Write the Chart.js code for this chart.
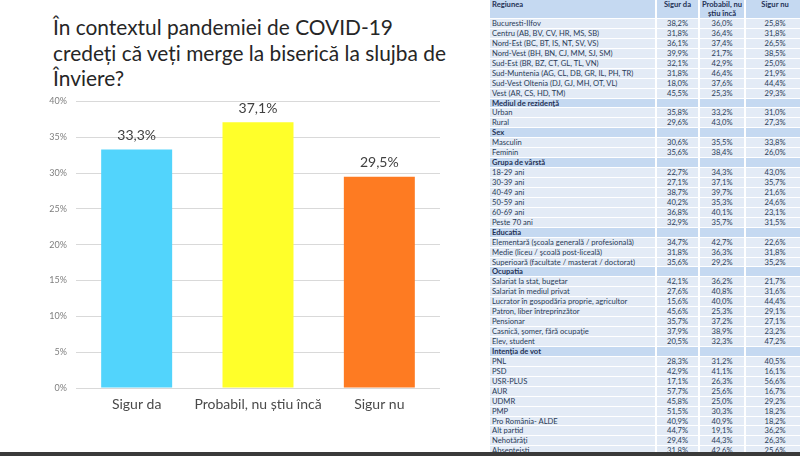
<!DOCTYPE html>
<html lang="ro">
<head>
    <meta charset="UTF-8">
    <title>Slujba de Înviere</title>
    <script src="https://cdn.jsdelivr.net/npm/chart.js"></script>
    <style>
        body {
            margin: 0;
            width: 800px;
            height: 456px;
            background: white;
            position: relative;
            overflow: hidden;
            font-family: Lato, "Open Sans", sans-serif;
        }
        #title {
            position: absolute;
            left: 53px;
            top: 14px;
            font-size: 20.9px;
            line-height: 25.5px;
            color: #262626;
        }
        #chartBox {
            position: absolute;
            left: 0;
            top: 87px;
            width: 470px;
            height: 343px;
        }
        #table {
            position: absolute;
            left: 490px;
            top: 0;
            display: grid;
            grid-template-columns: 165px 41px 44px 58px;
            grid-template-rows: 18px;
            grid-auto-rows: 8.95px;
            column-gap: 2px;
            row-gap: 1px;
            font-size: 7.6px;
            color: #2a3b57;
        }
        #table div {
            background: #e3ebf6;
            line-height: 9px;
            white-space: nowrap;
            overflow: hidden;
        }
        #table .head {
            background: #c5d9f1;
            font-weight: bold;
            color: #1f3155;
            line-height: 9px;
        }
        #table .lbl { padding-left: 2px; }
        #table .num { text-align: center; }
        #bottomBar {
            position: absolute;
            left: 0;
            top: 452px;
            width: 800px;
            height: 4px;
            background: #3a3a3a;
        }
    </style>
</head>
<body>
    <div id="title">În contextul pandemiei de COVID-19<br>credeți că veți merge la biserică la slujba de<br>Înviere?</div>
    <div id="chartBox"><canvas id="bisericaChart"></canvas></div>
    <div id="table"></div>
    <div id="bottomBar"></div>

    <script>
        // chart data
        const categories = ['Sigur da', 'Probabil, nu știu încă', 'Sigur nu'];
        const values = [33.3, 37.1, 29.5];
        const barColors = ['#52d4fc', '#ffff2a', '#fe7b22'];
        const yTicks = [0, 5, 10, 15, 20, 25, 30, 35, 40];

        // table data (Sigur da, Probabil, Sigur nu)
        const tableHeader = ['Regiunea', 'Sigur da', 'Probabil, nu<br>știu încă', 'Sigur nu'];
        const regiuni = [
            ['Bucuresti-Ilfov', '38,2%', '36,0%', '25,8%'],
            ['Centru (AB, BV, CV, HR, MS, SB)', '31,8%', '36,4%', '31,8%'],
            ['Nord-Est (BC, BT, IS, NT, SV, VS)', '36,1%', '37,4%', '26,5%'],
            ['Nord-Vest (BH, BN, CJ, MM, SJ, SM)', '39,9%', '21,7%', '38,5%'],
            ['Sud-Est (BR, BZ, CT, GL, TL, VN)', '32,1%', '42,9%', '25,0%'],
            ['Sud-Muntenia (AG, CL, DB, GR, IL, PH, TR)', '31,8%', '46,4%', '21,9%'],
            ['Sud-Vest Oltenia (DJ, GJ, MH, OT, VL)', '18,0%', '37,6%', '44,4%'],
            ['Vest (AR, CS, HD, TM)', '45,5%', '25,3%', '29,3%']
        ];
        const mediu = [
            ['Urban', '35,8%', '33,2%', '31,0%'],
            ['Rural', '29,6%', '43,0%', '27,3%']
        ];
        const sex = [
            ['Masculin', '30,6%', '35,5%', '33,8%'],
            ['Feminin', '35,6%', '38,4%', '26,0%']
        ];
        const varsta = [
            ['18-29 ani', '22,7%', '34,3%', '43,0%'],
            ['30-39 ani', '27,1%', '37,1%', '35,7%'],
            ['40-49 ani', '38,7%', '39,7%', '21,6%'],
            ['50-59 ani', '40,2%', '35,3%', '24,6%'],
            ['60-69 ani', '36,8%', '40,1%', '23,1%'],
            ['Peste 70 ani', '32,9%', '35,7%', '31,5%']
        ];
        const educatia = [
            ['Elementară (şcoala generală / profesională)', '34,7%', '42,7%', '22,6%'],
            ['Medie (liceu / şcoală post-liceală)', '31,8%', '36,3%', '31,8%'],
            ['Superioară (facultate / masterat / doctorat)', '35,6%', '29,2%', '35,2%']
        ];
        const ocupatia = [
            ['Salariat la stat, bugetar', '42,1%', '36,2%', '21,7%'],
            ['Salariat în mediul privat', '27,6%', '40,8%', '31,6%'],
            ['Lucrator în gospodăria proprie, agricultor', '15,6%', '40,0%', '44,4%'],
            ['Patron, liber întreprinzător', '45,6%', '25,3%', '29,1%'],
            ['Pensionar', '35,7%', '37,2%', '27,1%'],
            ['Casnică, şomer, fără ocupaţie', '37,9%', '38,9%', '23,2%'],
            ['Elev, student', '20,5%', '32,3%', '47,2%']
        ];
        const vot = [
            ['PNL', '28,3%', '31,2%', '40,5%'],
            ['PSD', '42,9%', '41,1%', '16,1%'],
            ['USR-PLUS', '17,1%', '26,3%', '56,6%'],
            ['AUR', '57,7%', '25,6%', '16,7%'],
            ['UDMR', '45,8%', '25,0%', '29,2%'],
            ['PMP', '51,5%', '30,3%', '18,2%'],
            ['Pro România- ALDE', '40,9%', '40,9%', '18,2%'],
            ['Alt partid', '44,7%', '19,1%', '36,2%'],
            ['Nehotărâţi', '29,4%', '44,3%', '26,3%'],
            ['Absenteişti', '31,8%', '42,6%', '25,6%']
        ];
        const sections = [
            [null, regiuni],
            ['Mediul de rezidenţă', mediu],
            ['Sex', sex],
            ['Grupa de vârstă', varsta],
            ['Educatia', educatia],
            ['Ocupatia', ocupatia],
            ['Intenţia de vot', vot]
        ];

        function addCell(html, cls) {
            const cell = document.createElement('div');
            cell.className = cls;
            cell.innerHTML = html;
            document.getElementById('table').appendChild(cell);
        }

        tableHeader.forEach((h, i) => addCell(h, 'head ' + (i === 0 ? 'lbl' : 'num')));
        sections.forEach(([name, rows]) => {
            if (name) {
                addCell(name, 'head lbl');
                addCell('', 'head');
                addCell('', 'head');
                addCell('', 'head');
            }
            rows.forEach(r => {
                addCell(r[0], 'lbl');
                addCell(r[1], 'num');
                addCell(r[2], 'num');
                addCell(r[3], 'num');
            });
        });

        const fmt = v => v.toFixed(1).replace('.', ',') + '%';

        // value labels above the bars
        const barLabels = {
            id: 'barLabels',
            afterDatasetsDraw(chart) {
                const ctx = chart.ctx;
                ctx.save();
                ctx.font = '14px Lato, "Open Sans", sans-serif';
                ctx.fillStyle = '#404040';
                ctx.textAlign = 'center';
                ctx.textBaseline = 'middle';
                chart.getDatasetMeta(0).data.forEach((bar, i) => {
                    ctx.fillText(fmt(values[i]), bar.x, bar.y - 14);
                });
                ctx.restore();
            }
        };

        const ctx = document.getElementById('bisericaChart').getContext('2d');
        new Chart(ctx, {
            type: 'bar',
            data: {
                labels: categories,
                datasets: [{
                    data: values,
                    backgroundColor: barColors,
                    categoryPercentage: 1,
                    barPercentage: 0.585
                }]
            },
            options: {
                responsive: true,
                maintainAspectRatio: false,
                animation: false,
                layout: { padding: { top: 7, right: 30, left: 0, bottom: 0 } },
                plugins: {
                    legend: { display: false },
                    tooltip: { enabled: false }
                },
                scales: {
                    x: {
                        grid: { display: false },
                        border: { display: false },
                        ticks: {
                            color: '#4a4a4a',
                            font: { family: 'Lato', size: 14 },
                            padding: 0,
                            maxRotation: 0,
                            minRotation: 0,
                            autoSkip: false
                        },
                        afterFit: s => { s.height = 42; }
                    },
                    y: {
                        min: 0,
                        max: 40,
                        afterBuildTicks: s => { s.ticks = yTicks.map(v => ({ value: v })); },
                        grid: { color: '#d9d9d9', drawTicks: false },
                        border: { display: false },
                        ticks: {
                            color: '#7f7f7f',
                            font: { family: 'Lato', size: 9 },
                            padding: 9,
                            callback: v => v + '%'
                        },
                        afterFit: s => { s.width = 76; }
                    }
                }
            },
            plugins: [barLabels]
        });
    </script>
</body>
</html>
